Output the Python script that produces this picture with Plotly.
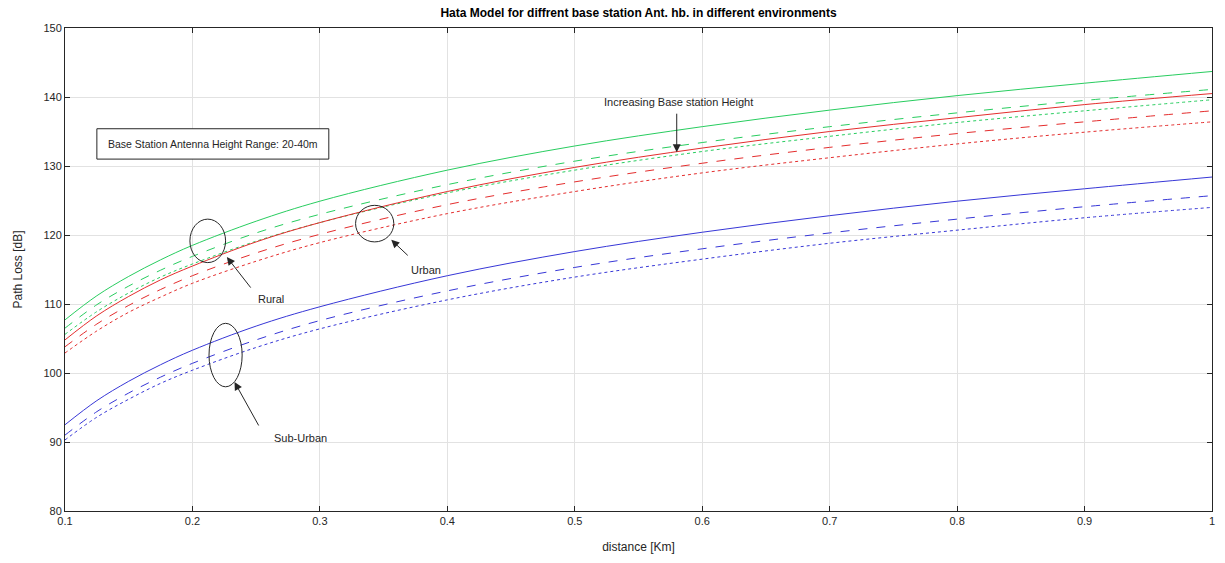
import plotly.graph_objects as go

# distance samples [km]
distance_km = [0.1, 0.125, 0.15, 0.175, 0.2, 0.25, 0.3, 0.4, 0.5, 0.6, 0.7, 0.8, 0.9, 1.0]

# path loss [dB] for hb = 20 m (solid), 30 m (dashed), 40 m (dotted)
green_20 = [107.7, 111.2, 114.0, 116.4, 118.5, 122.0, 124.9, 129.4, 132.9, 135.7, 138.1, 140.2, 142.0, 143.7]
green_30 = [106.5, 109.9, 112.6, 114.9, 116.9, 120.3, 123.0, 127.3, 130.7, 133.4, 135.7, 137.7, 139.5, 141.1]
green_40 = [105.6, 108.9, 111.6, 113.9, 115.8, 119.1, 121.8, 126.1, 129.4, 132.1, 134.3, 136.3, 138.0, 139.6]

red_20 = [104.8, 108.3, 111.1, 113.5, 115.5, 119.0, 121.8, 126.3, 129.8, 132.6, 135.0, 137.0, 138.9, 140.5]
red_30 = [103.8, 107.1, 109.8, 112.1, 114.1, 117.4, 120.1, 124.4, 127.7, 130.4, 132.7, 134.7, 136.4, 138.0]
red_40 = [102.9, 106.1, 108.8, 111.0, 113.0, 116.2, 118.9, 123.1, 126.3, 129.0, 131.2, 133.2, 134.9, 136.4]

blue_20 = [92.5, 96.0, 98.8, 101.2, 103.3, 106.8, 109.6, 114.1, 117.6, 120.4, 122.8, 124.9, 126.7, 128.4]
blue_30 = [91.0, 94.4, 97.1, 99.4, 101.4, 104.8, 107.6, 111.9, 115.3, 118.0, 120.3, 122.3, 124.1, 125.7]
blue_40 = [90.3, 93.6, 96.2, 98.5, 100.4, 103.7, 106.4, 110.6, 113.9, 116.5, 118.8, 120.7, 122.5, 124.0]

x_ticks = [0.1, 0.2, 0.3, 0.4, 0.5, 0.6, 0.7, 0.8, 0.9, 1.0]
x_tick_text = ["0.1", "0.2", "0.3", "0.4", "0.5", "0.6", "0.7", "0.8", "0.9", "1"]
y_ticks = [80, 90, 100, 110, 120, 130, 140, 150]

GREEN = "rgb(40,205,95)"
RED = "rgb(228,45,45)"
BLUE = "rgb(55,55,215)"
INK = "#262626"
FONT = "Liberation Sans, Arial, Helvetica, sans-serif"

series = [
    (green_20, GREEN, "solid"), (green_30, GREEN, "dash"), (green_40, GREEN, "dot"),
    (red_20, RED, "solid"), (red_30, RED, "dash"), (red_40, RED, "dot"),
    (blue_20, BLUE, "solid"), (blue_30, BLUE, "dash"), (blue_40, BLUE, "dot"),
]

fig = go.Figure()
for values, color, dash in series:
    fig.add_trace(go.Scatter(
        x=distance_km, y=values, mode="lines",
        line=dict(color=color, width=1, dash=dash, shape="spline", smoothing=1.0),
        showlegend=False, hoverinfo="skip",
    ))

# ellipses grouping the three heights of each environment
ellipses = [
    (0.198, 116.0, 0.226, 122.3),   # Rural
    (0.328, 119.0, 0.358, 124.3),   # Urban
    (0.213, 98.0, 0.239, 107.2),    # Sub-Urban
]
shapes = []
for x0, y0, x1, y1 in ellipses:
    shapes.append(dict(type="circle", xref="x", yref="y", x0=x0, y0=y0, x1=x1, y1=y1,
                       line=dict(color=INK, width=1)))

# info box
shapes.append(dict(type="rect", xref="x", yref="y", x0=0.125, y0=131.0, x1=0.307, y1=135.4,
                   line=dict(color=INK, width=1), fillcolor="white", layer="above"))

label_font = dict(size=11, color=INK, family=FONT)
annotations = [
    dict(x=0.1325, y=133.2, xref="x", yref="y", text="Base Station Antenna Height Range: 20-40m",
         showarrow=False, xanchor="left", yanchor="middle", font=dict(size=10.5, color=INK, family=FONT)),
    dict(x=0.262, y=110.7, xref="x", yref="y", text="Rural", showarrow=False, font=label_font),
    dict(x=0.383, y=114.9, xref="x", yref="y", text="Urban", showarrow=False, font=label_font),
    dict(x=0.285, y=90.6, xref="x", yref="y", text="Sub-Urban", showarrow=False, font=label_font),
    dict(x=0.581, y=139.3, xref="x", yref="y", text="Increasing Base station Height",
         showarrow=False, font=label_font),
]

# arrows (tip in data coordinates, tail offset in pixels)
arrows = [
    (0.227, 116.8, 25, 32),
    (0.356, 119.3, 18, 17),
    (0.233, 98.7, 25, 45),
    (0.580, 132.0, 0, -40),
]
for x, y, ax, ay in arrows:
    annotations.append(dict(x=x, y=y, xref="x", yref="y", text="", showarrow=True,
                            ax=ax, ay=ay, arrowhead=2, arrowsize=1.6, arrowwidth=1,
                            arrowcolor=INK, standoff=0))

axis_common = dict(
    showline=True, linecolor=INK, linewidth=1, mirror="ticks",
    ticks="inside", ticklen=5, tickcolor=INK, tickwidth=1,
    showgrid=True, gridcolor="rgb(226,226,226)", gridwidth=1,
    zeroline=False, tickfont=dict(size=11, color=INK, family=FONT),
)

fig.update_layout(
    width=1225, height=563,
    margin=dict(l=65, r=10, t=28, b=52),
    paper_bgcolor="white", plot_bgcolor="white",
    title=dict(text="<b>Hata Model for diffrent base station Ant. hb. in different environments</b>",
               x=0.5, xref="paper", xanchor="center", y=0.977, yanchor="middle",
               font=dict(size=12, color="black", family=FONT)),
    xaxis=dict(range=[0.1, 1.0], tickvals=x_ticks, ticktext=x_tick_text,
               title=dict(text="distance [Km]", font=dict(size=12, color=INK, family=FONT), standoff=16),
               **axis_common),
    yaxis=dict(range=[80, 150], tickvals=y_ticks,
               title=dict(text="Path Loss [dB]", font=dict(size=12, color=INK, family=FONT), standoff=18),
               **axis_common),
    shapes=shapes, annotations=annotations,
)

fig.write_html("out.html")
